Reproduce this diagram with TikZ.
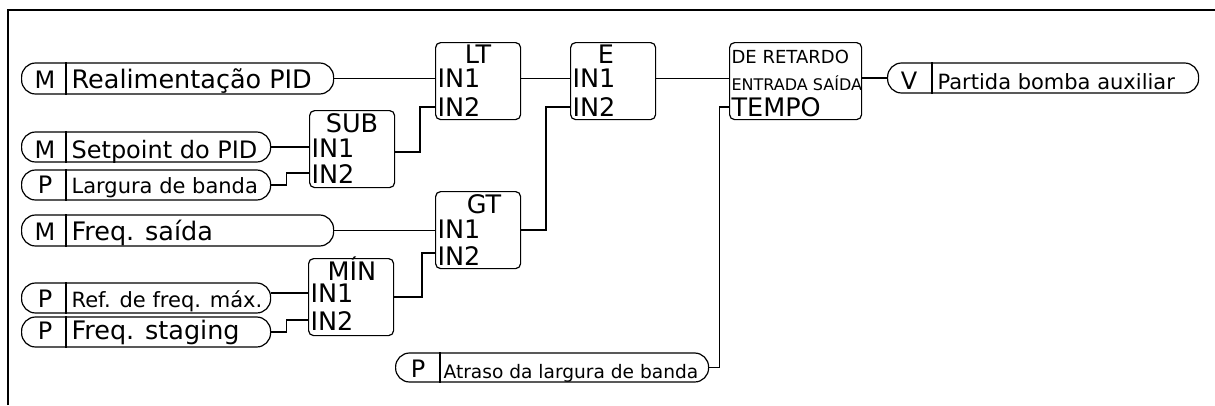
\documentclass[tikz,border=0pt]{standalone}
\usepackage{fontspec}
\setmainfont{DejaVu Sans}
\begin{document}
\begin{tikzpicture}[x=1pt,y=-1pt,line width=1.2pt,
  pill/.style={draw,rounded corners=14pt,minimum height=30pt,inner sep=0pt,anchor=west},
  blk/.style={draw,rounded corners=5pt,minimum width=85pt,minimum height=77pt,inner sep=0pt,anchor=north west},
  lbl/.style={inner sep=0pt,anchor=base west},
  ltr/.style={inner sep=0pt,anchor=base,font=\fontsize{24}{26}\selectfont},
  big/.style={lbl,font=\fontsize{25.5}{27}\selectfont},
  mid/.style={lbl,font=\fontsize{24}{26}\selectfont},
  sml/.style={lbl,font=\fontsize{21}{23}\selectfont},
  tny/.style={lbl,font=\fontsize{18.6}{20}\selectfont}]
\useasboundingbox (0,0) rectangle (1215,405);
\draw[line width=1.5pt] (8,405) -- (8,10) -- (1215,10);
% signals
\node[pill,minimum width=312pt,minimum height=31pt] (fb) at (21,78.5) {};
\node[ltr] (fbl) at (45,88) {M};
\node[big] (fbt) at (71,88) {Realimentação PID};
\node[pill,minimum width=249pt] (sp) at (21,147) {};
\node[ltr] (spl) at (45,158) {M};
\node[mid] (spt) at (71,158) {Setpoint do PID};
\node[pill,minimum width=249pt] (bw) at (21,185) {};
\node[ltr] (bwl) at (45,193.5) {P};
\node[sml] (bwt) at (71,193) {Largura de banda};
\node[pill,minimum width=312pt,minimum height=31pt] (fo) at (21,230.5) {};
\node[ltr] (fol) at (45,240.5) {M};
\node[big] (fot) at (71,240) {Freq. saída};
\node[pill,minimum width=249pt] (rf) at (21,298) {};
\node[ltr] (rfl) at (45,307) {P};
\node[sml] (rft) at (71,307) {Ref. de freq. máx.};
\node[pill,minimum width=249pt] (fs) at (21,332) {};
\node[ltr] (fsl) at (45,339) {P};
\node[big] (fst) at (71,339) {Freq. staging};
\node[pill,minimum width=313pt,minimum height=29pt] (dl) at (395,367.5) {};
\node[ltr] (dll) at (418,377.5) {P};
\node[tny] (dlt) at (443,378) {Atraso da largura de banda};
\node[pill,minimum width=311pt] (out) at (887,78) {};
\node[ltr] (outl) at (909,89) {V};
\node[sml] (outt) at (937,89) {Partida bomba auxiliar};
\foreach \p in {fb,sp,bw,fo,rf,fs,dl,out}
  \draw ([xshift=45pt]\p.north west) -- ([xshift=45pt]\p.south west);
% blocks
\node[blk] (sub) at (309,110) {};
\node[big,anchor=base] at (352,132) {SUB};
\node[big] at (311,157) {IN1};
\node[big] at (311,183) {IN2};
\node[blk] (lt) at (435,42) {};
\node[big,anchor=base] at (478,63) {LT};
\node[big] at (437,87) {IN1};
\node[big] at (437,116) {IN2};
\node[blk] (e) at (570,42) {};
\node[big,anchor=base] at (606,63) {E};
\node[big] at (572,87) {IN1};
\node[big] at (572,116) {IN2};
\node[blk,minimum width=132pt] (dr) at (729,42) {};
\node[lbl,font=\fontsize{18}{20}\selectfont] at (731,63) {DE RETARDO};
\node[lbl,font=\fontsize{16}{18}\selectfont] at (731,90) {ENTRADA SAÍDA};
\node[big] at (731,116) {TEMPO};
\node[blk] (gt) at (435,191) {};
\node[big,anchor=base] at (484,213) {GT};
\node[big] at (437,238) {IN1};
\node[big] at (437,265) {IN2};
\node[blk] (mn) at (308,258) {};
\node[big,anchor=base] at (352,280) {MÍN};
\node[big] at (310,302) {IN1};
\node[big] at (310,330) {IN2};
% ports
\coordinate (sub1) at (309,147);
\coordinate (sub2) at (309,173);
\coordinate (subo) at (395,152);
\coordinate (lt1) at (435,78.5);
\coordinate (lt2) at (435,107);
\coordinate (lto) at (520,78.5);
\coordinate (e1) at (570,78.5);
\coordinate (e2) at (570,107);
\coordinate (eo) at (655,78.5);
\coordinate (dri) at (729,78.5);
\coordinate (drt) at (729,107);
\coordinate (dro) at (861,78);
\coordinate (gt1) at (435,230.5);
\coordinate (gt2) at (435,253);
\coordinate (gto) at (520,230);
\coordinate (mn1) at (308,293);
\coordinate (mn2) at (308,320);
\coordinate (mno) at (393,297);
% wires
\draw (fb.east) -- (lt1);
\draw (sp.east) -- (sub1);
\draw (bw.east) -- ++(15,0) |- (sub2);
\draw (subo) -- ++(25,0) |- (lt2);
\draw (lto) -- (e1);
\draw (gto) -- ++(26,0) |- (e2);
\draw (eo) -- (dri);
\draw (dl.east) -- ++(10,0) |- (drt);
\draw (dro) -- (out.west);
\draw (fo.east) -- (gt1);
\draw (mno) -- ++(29,0) |- (gt2);
\draw (rf.east |- mn1) -- (mn1);
\draw (fs.east) -- ++(15,0) |- (mn2);
\end{tikzpicture}
\end{document}
